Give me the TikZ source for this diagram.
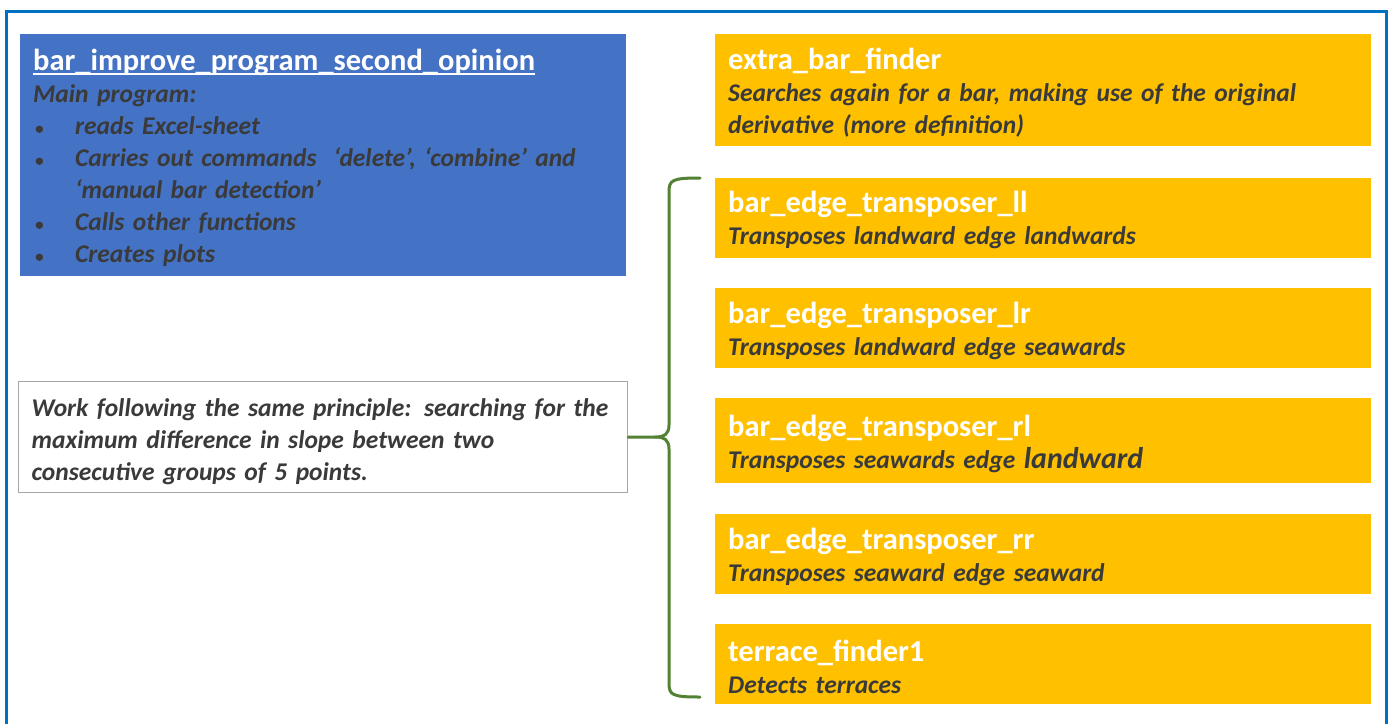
\documentclass[tikz,border=0pt]{standalone}
\usepackage{fontspec}
\setmainfont{Carlito}
\usetikzlibrary{positioning}

\definecolor{frameblue}{HTML}{0070C0}
\definecolor{mainblue}{HTML}{4472C4}
\definecolor{funcyellow}{HTML}{FFC000}
\definecolor{notegray}{HTML}{A6A6A6}
\definecolor{textgray}{HTML}{3A3A3A}
\definecolor{bracegreen}{HTML}{548235}

\tikzset{
  box/.style={anchor=north west, inner xsep=13pt, inner ysep=0pt, align=left,
    font=\fontsize{25.5}{32}\selectfont, execute at begin node={\rule{0pt}{27pt}}},
  mainbox/.style={box, fill=mainblue, text width=580pt, minimum height=242pt},
  funcbox/.style={box, fill=funcyellow, text width=630pt, minimum height=80pt},
  notebox/.style={box, draw=notegray, line width=1.2pt, fill=white, text width=583pt, minimum height=111pt},
  brace/.style={draw=bracegreen, line width=3pt, line cap=round}
}

\newcommand{\fname}[1]{{\color{white}\fontsize{30.5}{34}\selectfont\bfseries #1}}
\newcommand{\fdesc}[1]{{\color{textgray}\bfseries\itshape #1}}
\newcommand{\uln}[1]{\setbox0\hbox{#1}\rlap{\rule[-4pt]{\wd0}{1.8pt}}\box0}
\newcommand{\bul}{\makebox[42pt][l]{\hspace*{2pt}{\fontsize{17}{17}\selectfont\textbullet}}}

\begin{document}
\begin{tikzpicture}[x=1pt, y=-1pt]
    \useasboundingbox[fill=white] (0,0) rectangle (1392,724);
    % outer frame, runs off the bottom edge
    \draw[frameblue, line width=3pt] (6,724) -- (6,11) -- (1386,11) -- (1386,724);

    % main program
    \node[mainbox] (main) at (20,34) {\fname{\uln{bar\_improve\_program\_second\_opinion}}\\
        \fdesc{Main program:}\\
        \fdesc{\bul reads Excel-sheet}\\
        \fdesc{\bul Carries out commands \ ‘delete’, ‘combine’ and}\\
        \fdesc{\hspace*{42pt}‘manual bar detection’}\\
        \fdesc{\bul Calls other functions}\\
        \fdesc{\bul Creates plots}};

    % functions it calls
    \node[funcbox, minimum height=112pt] (finder) at (715,34) {\fname{extra\_bar\_finder}\\
        \fdesc{Searches again for a bar, making use of the original}\\
        \fdesc{derivative (more definition)}};
    \node[funcbox, below=31pt of finder.south west, anchor=north west] (tll) {\fname{bar\_edge\_transposer\_ll}\\
        \fdesc{Transposes landward edge landwards}};
    \node[funcbox, below=30pt of tll.south west, anchor=north west] (tlr) {\fname{bar\_edge\_transposer\_lr}\\
        \fdesc{Transposes landward edge seawards}};
    \node[funcbox, minimum height=85pt, below=30pt of tlr.south west, anchor=north west] (trl) {\fname{bar\_edge\_transposer\_rl}\\
        \fdesc{Transposes seawards edge {\fontsize{30}{32}\selectfont landward}}};
    \node[funcbox, below=30pt of trl.south west, anchor=north west] (trr) {\fname{bar\_edge\_transposer\_rr}\\
        \fdesc{Transposes seaward edge seaward}};
    \node[funcbox, below=30pt of trr.south west, anchor=north west] (terrace) {\fname{terrace\_finder1}\\
        \fdesc{Detects terraces}};

    % shared principle
    \node[notebox] (note) at (18,381) {\fdesc{Work following the same principle: searching for the}\\
        \fdesc{maximum difference in slope between two}\\
        \fdesc{consecutive groups of 5 points.}};

    % brace over the transposers and terrace finder
    \coordinate (tip) at (657,437);
    \draw[brace] (700,178) .. controls (672,178) and (669,180) .. (669,192) -- (669,425)
        .. controls (669,434) and (664,437) .. (tip)
        .. controls (664,437) and (669,440) .. (669,449) -- (669,683)
        .. controls (669,695) and (672,697) .. (700,697);
    \draw[brace] (note.east) -- (tip);
\end{tikzpicture}
\end{document}
